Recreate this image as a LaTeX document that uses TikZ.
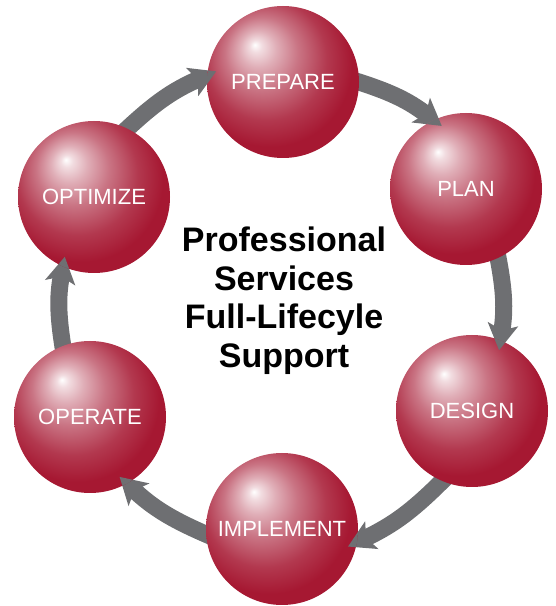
\documentclass[tikz,border=0pt]{standalone}
\usepackage{fontspec}
\setmainfont{Liberation Sans}
\usetikzlibrary{arrows.meta}
\definecolor{sphred}{RGB}{166,24,50}
\definecolor{flowgray}{RGB}{110,111,114}
\pgfdeclarelayer{back}
\pgfsetlayers{back,main}
\pgfdeclareradialshading{sphereshade}{\pgfpoint{-9.3bp}{12.3bp}}{%
  color(0bp)=(white); color(2bp)=(sphred!15!white); color(6bp)=(sphred!35!white);
  color(12bp)=(sphred!60!white); color(20bp)=(sphred!86!white); color(27bp)=(sphred);
  color(50bp)=(sphred)}
\tikzset{
      sphere/.style = { circle, minimum size=152pt, inner sep=0pt, shade, shading=sphereshade,
                        text=white, font=\fontsize{22}{24}\selectfont },
      flow/.style   = { line width=17pt, flowgray, -{Stealth[length=26pt,width=30pt,inset=6pt]},
                        shorten <=-12pt, shorten >=-10pt },
      title/.style  = { align=center, font=\fontsize{34}{38.5}\selectfont\bfseries }
    }
\begin{document}
\begin{tikzpicture}[x=1pt, y=1pt]
      \useasboundingbox (0,0) rectangle (556,606);

      % Draw the six phases
      \node[sphere] (prepare)   at (283,524) {PREPARE};
      \node[sphere] (plan)      at (466,417) {PLAN};
      \node[sphere] (design)    at (472,195) {DESIGN};
      \node[sphere] (implement) at (282,77)  {IMPLEMENT};
      \node[sphere] (operate)   at (90,189)  {OPERATE};
      \node[sphere] (optimize)  at (94,409)  {OPTIMIZE};

      \node[title] (core) at (284,305.5) {Professional\\Services\\Full-Lifecyle\\Support};

      % Draw the cycle, tips on top of the next phase
      \foreach \src/\sa/\dst/\da in {prepare/0/plan/115, plan/-65/design/68,
                                     design/-113/implement/-10, implement/184/operate/-61,
                                     operate/111/optimize/-114, optimize/64/prepare/175} {
        \begin{pgfonlayer}{back}
          \draw[flow] (\src.\sa) to[bend left=10] (\dst.\da);
        \end{pgfonlayer}
        \begin{scope}
          \clip (\dst.center) circle[radius=76pt];
          \draw[flow] (\src.\sa) to[bend left=10] (\dst.\da);
        \end{scope}
      }
\end{tikzpicture}
\end{document}
